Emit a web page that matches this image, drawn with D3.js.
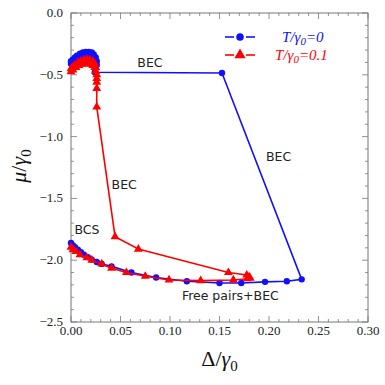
<!DOCTYPE html>
<html>
<head>
<meta charset="utf-8">
<script src="https://cdn.jsdelivr.net/npm/d3@7"></script>
<style>
  body { margin: 0; background: #fff; }
  .tick-label { font-family: "Liberation Serif", "DejaVu Serif", serif; font-size: 13px; fill: #222; }
  .note { font-family: "DejaVu Sans", sans-serif; font-size: 12.5px; fill: #222; }
  .axis-title { font-family: "Liberation Serif", serif; font-size: 22px; fill: #111; }
  .legend-text { font-family: "Liberation Serif", serif; font-size: 15px; font-style: italic; }
</style>
</head>
<body>
<div class="chart"></div>
<script>
var svgWidth = 385;
var svgHeight = 385;

var margin = { top: 13, right: 17, bottom: 63, left: 71 };

var width = svgWidth - margin.left - margin.right;
var height = svgHeight - margin.top - margin.bottom;

// T/gamma0 = 0 (blue): bottom branch, BEC jump, then the small arch near Delta=0
var deltaBlue = [0.000, 0.002, 0.004, 0.007, 0.010, 0.013, 0.017, 0.021, 0.026, 0.031, 0.041, 0.061, 0.086,
  0.117, 0.150, 0.172, 0.196, 0.218, 0.233,
  0.1525, 0.024,
  0.025, 0.026, 0.026, 0.025, 0.023, 0.021, 0.018, 0.015, 0.012, 0.009, 0.006, 0.004, 0.002, 0.000,
  0.000, 0.003, 0.006, 0.009, 0.012, 0.015, 0.018, 0.021, 0.023, 0.024];
var muBlue = [-1.86, -1.88, -1.895, -1.915, -1.935, -1.955, -1.975, -1.995, -2.015, -2.03, -2.05, -2.10, -2.14,
  -2.17, -2.185, -2.185, -2.175, -2.17, -2.155,
  -0.485, -0.48,
  -0.45, -0.42, -0.39, -0.36, -0.335, -0.32, -0.315, -0.315, -0.32, -0.33, -0.345, -0.36, -0.375, -0.39,
  -0.41, -0.39, -0.375, -0.36, -0.35, -0.345, -0.345, -0.35, -0.36, -0.38];

// T/gamma0 = 0.1 (red): arch near Delta=0, steep BEC line, then the bottom branch back to Delta=0
var deltaRed = [0.025, 0.024, 0.022, 0.019, 0.016, 0.013, 0.010, 0.007, 0.004, 0.002, 0.000,
  0.000, 0.002, 0.005, 0.008, 0.011, 0.014, 0.017, 0.020, 0.022, 0.024,
  0.025, 0.026, 0.026, 0.026, 0.026, 0.026,
  0.0445, 0.068, 0.159, 0.1775, 0.180, 0.181, 0.178,
  0.164, 0.131, 0.099, 0.075, 0.056, 0.041, 0.031, 0.021, 0.016, 0.009, 0.005, 0.002, 0.000];
var muRed = [-0.44, -0.41, -0.39, -0.38, -0.375, -0.38, -0.39, -0.40, -0.42, -0.435, -0.45,
  -0.475, -0.46, -0.44, -0.425, -0.415, -0.41, -0.41, -0.415, -0.425, -0.44,
  -0.47, -0.50, -0.53, -0.56, -0.61, -0.76,
  -1.81, -1.91, -2.10, -2.12, -2.135, -2.145, -2.15,
  -2.16, -2.165, -2.16, -2.13, -2.10, -2.065, -2.03, -2.00, -1.98, -1.955, -1.93, -1.915, -1.895];

var xTicks = [0.00, 0.05, 0.10, 0.15, 0.20, 0.25, 0.30];
var yTicks = [0.0, -0.5, -1.0, -1.5, -2.0, -2.5];

var notes = [
  { text: "BEC", d: 0.067, m: -0.435 },
  { text: "BEC", d: 0.197, m: -1.2 },
  { text: "BEC", d: 0.041, m: -1.42 },
  { text: "BCS", d: 0.0035, m: -1.79 },
  { text: "Free pairs+BEC", d: 0.112, m: -2.32 }
];

var blue = "#1010ff";
var red = "#ff0000";

var svg = d3
  .select(".chart")
  .append("svg")
  .attr("width", svgWidth)
  .attr("height", svgHeight);

var chartGroup = svg.append("g")
  .attr("transform", `translate(${margin.left}, ${margin.top})`);

var xScale = d3.scaleLinear().domain([0, 0.30]).range([0, width]);
var yScale = d3.scaleLinear().domain([-2.5, 0]).range([height, 0]);

// frame
chartGroup.append("rect")
  .attr("width", width)
  .attr("height", height)
  .attr("fill", "none")
  .attr("stroke", "#777")
  .attr("stroke-width", 1);

// inward ticks on all four sides
var xMinor = d3.range(0, 0.3001, 0.01);
var yMinor = d3.range(-2.5, 0.0001, 0.1);
function isMajor(v, step) { return Math.abs(v / step - Math.round(v / step)) < 1e-6; }

var tickGroup = chartGroup.append("g").attr("stroke", "#777").attr("stroke-width", 0.8);
xMinor.forEach(function (v) {
  var len = isMajor(v, 0.05) ? 6 : 3;
  var x = xScale(v);
  tickGroup.append("line").attr("x1", x).attr("x2", x).attr("y1", height).attr("y2", height - len);
  tickGroup.append("line").attr("x1", x).attr("x2", x).attr("y1", 0).attr("y2", len);
});
yMinor.forEach(function (v) {
  var len = isMajor(v, 0.5) ? 6 : 3;
  var y = yScale(v);
  tickGroup.append("line").attr("x1", 0).attr("x2", len).attr("y1", y).attr("y2", y);
  tickGroup.append("line").attr("x1", width).attr("x2", width - len).attr("y1", y).attr("y2", y);
});

chartGroup.selectAll(".xlab")
  .data(xTicks)
  .enter()
  .append("text")
  .attr("class", "tick-label")
  .attr("x", d => xScale(d))
  .attr("y", height + 13)
  .attr("text-anchor", "middle")
  .text(d => d3.format(".2f")(d));

chartGroup.selectAll(".ylab")
  .data(yTicks)
  .enter()
  .append("text")
  .attr("class", "tick-label")
  .attr("x", -8)
  .attr("y", d => yScale(d) + 4)
  .attr("text-anchor", "end")
  .text(d => d3.format(".1f")(d).replace("-", "\u2212"));

// axis titles
var xt = svg.append("text")
  .attr("class", "axis-title")
  .attr("x", margin.left + width / 2)
  .attr("y", 366)
  .attr("text-anchor", "middle");
xt.append("tspan").text("\u0394/");
xt.append("tspan").attr("font-style", "italic").text("\u03b3");
xt.append("tspan").attr("font-size", "15px").attr("dy", 5).text("0");

var yt = svg.append("text")
  .attr("class", "axis-title")
  .attr("transform", `translate(26, ${margin.top + 153}) rotate(-90)`)
  .attr("text-anchor", "middle");
yt.append("tspan").attr("font-style", "italic").text("\u03bc");
yt.append("tspan").text("/");
yt.append("tspan").attr("font-style", "italic").text("\u03b3");
yt.append("tspan").attr("font-size", "15px").attr("dy", 5).text("0");

// series
var line = d3.line().x(d => xScale(d[0])).y(d => yScale(d[1]));
var blueData = deltaBlue.map((d, i) => [d, muBlue[i]]);
var redData = deltaRed.map((d, i) => [d, muRed[i]]);

chartGroup.append("path")
  .datum(blueData)
  .attr("d", line)
  .attr("fill", "none")
  .attr("stroke", blue)
  .attr("stroke-width", 1.6);

chartGroup.selectAll(".bdot")
  .data(blueData)
  .enter()
  .append("circle")
  .attr("cx", d => xScale(d[0]))
  .attr("cy", d => yScale(d[1]))
  .attr("r", 3.2)
  .attr("fill", blue);

chartGroup.append("path")
  .datum(redData)
  .attr("d", line)
  .attr("fill", "none")
  .attr("stroke", red)
  .attr("stroke-width", 1.6);

var tri = d3.symbol().type(d3.symbolTriangle).size(34);
chartGroup.selectAll(".rtri")
  .data(redData)
  .enter()
  .append("path")
  .attr("d", tri)
  .attr("transform", d => `translate(${xScale(d[0])}, ${yScale(d[1])})`)
  .attr("fill", red);

// region notes
chartGroup.selectAll(".note")
  .data(notes)
  .enter()
  .append("text")
  .attr("class", "note")
  .attr("x", d => xScale(d.d))
  .attr("y", d => yScale(d.m))
  .text(d => d.text);

// legend
var legend = [
  { label: "0", color: blue, y: 37, mark: "circle" },
  { label: "0.1", color: red, y: 55, mark: "triangle" }
];
legend.forEach(function (l) {
  var g = svg.append("g");
  g.append("line").attr("x1", 225).attr("x2", 234).attr("y1", l.y).attr("y2", l.y)
    .attr("stroke", l.color).attr("stroke-width", 1.6);
  g.append("line").attr("x1", 246).attr("x2", 255).attr("y1", l.y).attr("y2", l.y)
    .attr("stroke", l.color).attr("stroke-width", 1.6);
  if (l.mark === "circle") {
    g.append("circle").attr("cx", 240).attr("cy", l.y).attr("r", 3.8).attr("fill", l.color);
  } else {
    g.append("path").attr("d", d3.symbol().type(d3.symbolTriangle).size(55))
      .attr("transform", `translate(240, ${l.y})`).attr("fill", l.color);
  }
  var t = g.append("text")
    .attr("class", "legend-text")
    .attr("x", l.label === "0" ? 282 : 275)
    .attr("y", l.y + 5)
    .attr("fill", l.color);
  t.append("tspan").text("T/\u03b3");
  t.append("tspan").attr("font-size", "11px").attr("dy", 3).text("0");
  t.append("tspan").attr("dy", -3).text("=" + l.label);
});
</script>
</body>
</html>
